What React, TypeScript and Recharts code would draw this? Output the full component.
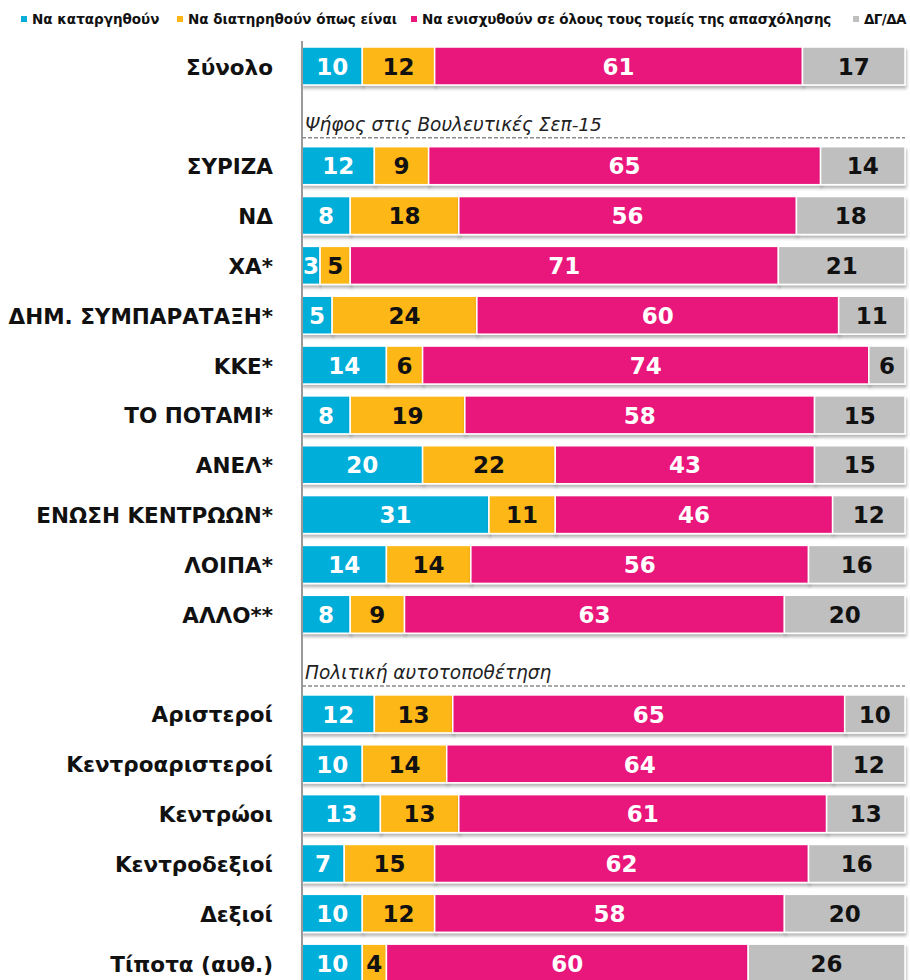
import { BarChart, Bar, XAxis, YAxis, Legend, LabelList } from 'recharts';

const categories = [
  'Σύνολο',
  'Ψήφος στις Βουλευτικές Σεπ-15',
  'ΣΥΡΙΖΑ',
  'ΝΔ',
  'ΧΑ*',
  'ΔΗΜ. ΣΥΜΠΑΡΑΤΑΞΗ*',
  'ΚΚΕ*',
  'ΤΟ ΠΟΤΑΜΙ*',
  'ΑΝΕΛ*',
  'ΕΝΩΣΗ ΚΕΝΤΡΩΩΝ*',
  'ΛΟΙΠΑ*',
  'ΑΛΛΟ**',
  'Πολιτική αυτοτοποθέτηση',
  'Αριστεροί',
  'Κεντροαριστεροί',
  'Κεντρώοι',
  'Κεντροδεξιοί',
  'Δεξιοί',
  'Τίποτα (αυθ.)',
];

const sectionHeaders = ['Ψήφος στις Βουλευτικές Σεπ-15', 'Πολιτική αυτοτοποθέτηση'];

const abolish = [10, null, 12, 8, 3, 5, 14, 8, 20, 31, 14, 8, null, 12, 10, 13, 7, 10, 10];
const keepAsIs = [12, null, 9, 18, 5, 24, 6, 19, 22, 11, 14, 9, null, 13, 14, 13, 15, 12, 4];
const strengthen = [61, null, 65, 56, 71, 60, 74, 58, 43, 46, 56, 63, null, 65, 64, 61, 62, 58, 60];
const noAnswer = [17, null, 14, 18, 21, 11, 6, 15, 15, 12, 16, 20, null, 10, 12, 13, 16, 20, 26];

const seriesNames = [
  'Να καταργηθούν',
  'Να διατηρηθούν όπως είναι',
  'Να ενισχυθούν σε όλους τους τομείς της απασχόλησης',
  'ΔΓ/ΔΑ',
];

const COLORS = ['#05AEDA', '#FDB714', '#E9177C', '#BFBFBF'];
const LABEL_COLORS = ['#ffffff', '#111111', '#ffffff', '#111111'];
const FONT = '"DejaVu Sans", Verdana, sans-serif';

const PLOT_LEFT = 302;
const PLOT_RIGHT = 905;
const LABEL_GAP = 23;
const LEGEND_LEFT = [21, 177, 411, 853];

const chartData = categories.map((name, i) => ({
  name,
  abolish: abolish[i],
  keepAsIs: keepAsIs[i],
  strengthen: strengthen[i],
  noAnswer: noAnswer[i],
}));

function CategoryTick(props: any) {
  const { x, y, payload } = props;
  const value = payload.value as string;
  if (sectionHeaders.includes(value)) {
    return (
      <g>
        <text
          x={PLOT_LEFT + 3}
          y={y + 15}
          fontFamily={FONT}
          fontStyle="italic"
          fontSize={18.5}
          fill="#222"
        >
          {value}
        </text>
        <line
          x1={PLOT_LEFT}
          x2={PLOT_RIGHT}
          y1={y + 22}
          y2={y + 22}
          stroke="#8c8c8c"
          strokeWidth={1.5}
          strokeDasharray="4 2"
        />
      </g>
    );
  }
  return (
    <text
      x={x}
      y={y}
      dy="0.4em"
      textAnchor="end"
      fontFamily={FONT}
      fontWeight="bold"
      fontSize={21.5}
      fill="#111"
    >
      {value}
    </text>
  );
}

function ShadowBar(props: any) {
  const { x, y, width, height, fill, value } = props;
  if (value == null || !width || width <= 0) return null;
  return (
    <rect
      x={x}
      y={y}
      width={width}
      height={height}
      fill={fill}
      stroke="#ffffff"
      strokeWidth={1.5}
      filter="url(#barShadow)"
    />
  );
}

const valueLabel = (color: string) => (props: any) => {
  const { x, y, width, height, value } = props;
  if (value == null) return null;
  return (
    <text
      x={x + width / 2}
      y={y + height / 2}
      dy="0.38em"
      textAnchor="middle"
      fontFamily={FONT}
      fontWeight="bold"
      fontSize={23}
      fill={color}
    >
      {value}
    </text>
  );
};

function LegendContent() {
  return (
    <div style={{ position: 'relative', height: 41, width: 905, fontFamily: FONT }}>
      {seriesNames.map((label, i) => (
        <div
          key={label}
          style={{
            position: 'absolute',
            left: LEGEND_LEFT[i],
            top: 11,
            display: 'flex',
            alignItems: 'center',
            whiteSpace: 'nowrap',
          }}
        >
          <span
            style={{
              display: 'inline-block',
              width: 6,
              height: 6,
              background: COLORS[i],
              marginRight: 5,
            }}
          />
          <span
            style={{
              fontSize: 13.5,
              fontWeight: 'bold',
              color: '#111',
              letterSpacing: i === 3 ? -0.6 : i === 2 ? -0.15 : 0,
            }}
          >
            {label}
          </span>
        </div>
      ))}
    </div>
  );
}

const keys = ['abolish', 'keepAsIs', 'strengthen', 'noAnswer'];

export default function App() {
  return (
    <div
      style={{
        position: 'absolute',
        left: 0,
        top: 0,
        width: 910,
        height: 980,
        overflow: 'hidden',
        background: '#fff',
      }}
    >
      <svg width={0} height={0} style={{ position: 'absolute' }}>
        <defs>
          <filter id="barShadow" x="-5%" y="-20%" width="115%" height="160%">
            <feDropShadow dx={1} dy={3} stdDeviation={1.5} floodColor="#000" floodOpacity={0.28} />
          </filter>
        </defs>
      </svg>
      <BarChart
        width={910}
        height={990}
        data={chartData}
        layout="vertical"
        barSize={38}
        margin={{ top: 0, right: 910 - PLOT_RIGHT, bottom: 2, left: 0 }}
      >
        <XAxis type="number" domain={[0, 100]} hide />
        <YAxis
          type="category"
          dataKey="name"
          width={PLOT_LEFT}
          interval={0}
          tickLine={false}
          tickMargin={LABEL_GAP}
          axisLine={{ stroke: '#9a9a9a', strokeWidth: 2 }}
          tick={<CategoryTick />}
        />
        <Legend verticalAlign="top" align="left" content={<LegendContent />} />
        {keys.map((k, i) => (
          <Bar
            key={k}
            dataKey={k}
            name={seriesNames[i]}
            stackId="a"
            fill={COLORS[i]}
            shape={<ShadowBar />}
            isAnimationActive={false}
          >
            <LabelList dataKey={k} content={valueLabel(LABEL_COLORS[i])} />
          </Bar>
        ))}
      </BarChart>
    </div>
  );
}
